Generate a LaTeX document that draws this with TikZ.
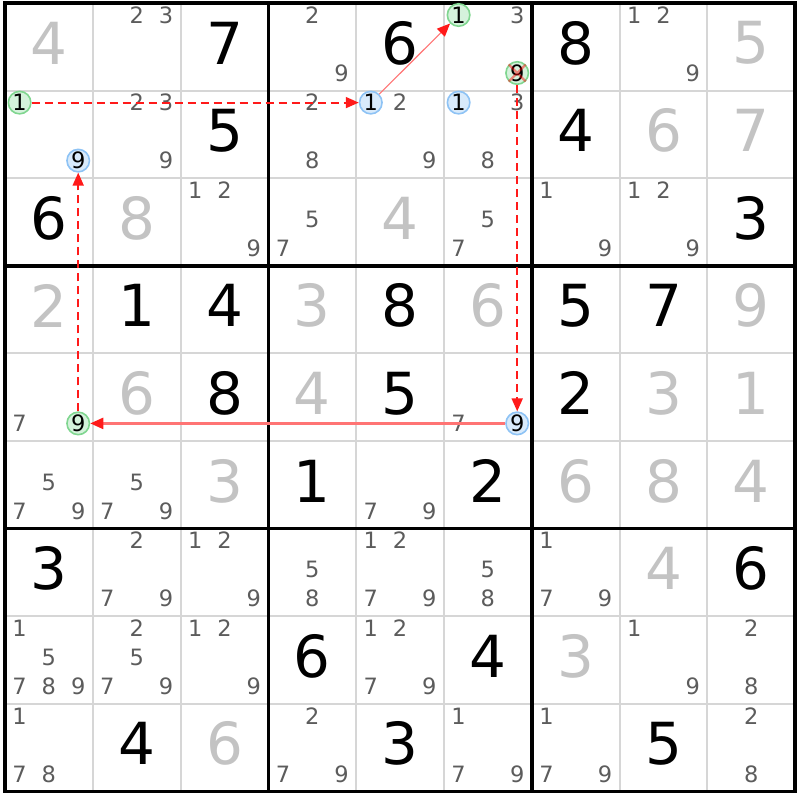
\documentclass[tikz,border=0pt]{standalone}
\usepackage{fontspec}
\setmainfont{DejaVu Sans}
\usetikzlibrary{arrows.meta}
\definecolor{solvedc}{HTML}{C3C3C3}
\definecolor{candc}{HTML}{5C5C5C}
\definecolor{gridc}{HTML}{D6D6D6}
\definecolor{greenfill}{HTML}{D5F2DC}
\definecolor{greenline}{HTML}{80D690}
\definecolor{bluefill}{HTML}{D8EAFB}
\definecolor{blueline}{HTML}{8EC3F5}
\definecolor{chainred}{HTML}{FF1A1A}
\definecolor{lightred}{HTML}{FF7474}
\begin{document}
\begin{tikzpicture}[x=1pt,y=-1pt,
  big/.style={font=\fontsize{58}{58}\selectfont, inner sep=0pt},
  given/.style={big, text=black},
  solved/.style={big, text=solvedc},
  cand/.style={font=\fontsize{22.5}{22.5}\selectfont, inner sep=0pt, text=candc},
  hl/.style={circle, line width=1.6pt, minimum size=22.5pt, inner sep=0pt, font=\fontsize{22.5}{22.5}\selectfont, text=black},
  hlg/.style={hl, draw=greenline, fill=greenfill},
  hlb/.style={hl, draw=blueline, fill=bluefill},
  thinline/.style={draw=gridc, line width=2pt},
  thickline/.style={draw=black, line width=3.5pt},
  dashchain/.style={draw=chainred, line width=1.8pt, dash pattern=on 8pt off 5pt, -{Triangle[length=13pt,width=11pt]}},
  solidchain/.style={draw=lightred, line width=2.2pt, -{Triangle[length=13pt,width=11pt,color=chainred]}},
  thinchain/.style={draw=lightred, line width=1.1pt, -{Triangle[length=13pt,width=11pt,color=chainred]}},
  xmark/.style={draw=red, draw opacity=0.45, line width=2.2pt}
]
\useasboundingbox (0,0) rectangle (800,800);
\fill[white] (0,0) rectangle (800,800);
% grid
\foreach \i in {1,2,4,5,7,8} {
  \draw[thinline] ({5+87.8*\i},3) -- ({5+87.8*\i},791.4);
  \draw[thinline] (5,{3+87.6*\i}) -- (795.2,{3+87.6*\i});
}
\foreach \i in {0,3,6,9} {
  \draw[thickline] ({5+87.8*\i},1.25) -- ({5+87.8*\i},793.15);
  \draw[thickline] (3.25,{3+87.6*\i}) -- (796.95,{3+87.6*\i});
}
% givens
\foreach \r/\c/\d in {1/3/7,1/5/6,1/7/8,2/3/5,2/7/4,3/1/6,3/9/3,4/2/1,4/3/4,4/5/8,4/7/5,4/8/7,5/3/8,5/5/5,5/7/2,6/4/1,6/6/2,7/1/3,7/9/6,8/4/6,8/6/4,9/2/4,9/5/3,9/8/5}
  \node[given] (g\r\c) at ({5+87.8*(\c-1)+43.9},{3+87.6*(\r-1)+40}) {\d};
% solved
\foreach \r/\c/\d in {1/1/4,1/9/5,2/8/6,2/9/7,3/2/8,3/5/4,4/1/2,4/4/3,4/6/6,4/9/9,5/2/6,5/4/4,5/8/3,5/9/1,6/3/3,6/7/6,6/8/8,6/9/4,7/8/4,8/7/3,9/3/6}
  \node[solved] (s\r\c) at ({5+87.8*(\c-1)+43.9},{3+87.6*(\r-1)+40}) {\d};
% candidates
\foreach \r/\c/\ds in {1/2/{2,3},1/4/{2,9},1/6/{3},1/8/{1,2,9},2/2/{2,3,9},2/4/{2,8},2/5/{2,9},2/6/{3,8},3/3/{1,2,9},3/4/{5,7},3/6/{5,7},3/7/{1,9},3/8/{1,2,9},5/1/{7},5/6/{7},6/1/{5,7,9},6/2/{5,7,9},6/5/{7,9},7/2/{2,7,9},7/3/{1,2,9},7/4/{5,8},7/5/{1,2,7,9},7/6/{5,8},7/7/{1,7,9},8/1/{1,5,7,8,9},8/2/{2,5,7,9},8/3/{1,2,9},8/5/{1,2,7,9},8/8/{1,9},8/9/{2,8},9/1/{1,7,8},9/4/{2,7,9},9/6/{1,7,9},9/7/{1,7,9},9/9/{2,8}}
  \foreach \d in \ds
    \node[cand] (c\r\c\d) at ({5+87.8*(\c-1)+14.6+29.3*mod(\d-1,3)},{3+87.6*(\r-1)+12+29*floor((\d-1)/3)}) {\d};
% highlighted candidates
\node[hlg] (A) at (19.6,102.6) {1};
\node[hlb] (B) at (370.8,102.6) {1};
\node[hlg] (C) at (458.6,15) {1};
\node[hlg] (D) at (517.2,73) {9};
\node[hlb] (E) at (517.2,423.4) {9};
\node[hlg] (F) at (78.2,423.4) {9};
\node[hlb] (G) at (78.2,160.6) {9};
\node[hlb] (H) at (458.6,102.6) {1};
\draw[xmark] (D.north west) -- (D.south east) (D.north east) -- (D.south west);
% chain
\draw[dashchain] (A) -- (B);
\draw[thinchain] (B) -- (C);
\draw[dashchain] (D) -- (E);
\draw[solidchain] (E) -- (F);
\draw[dashchain] (F) -- (G);
\end{tikzpicture}
\end{document}
